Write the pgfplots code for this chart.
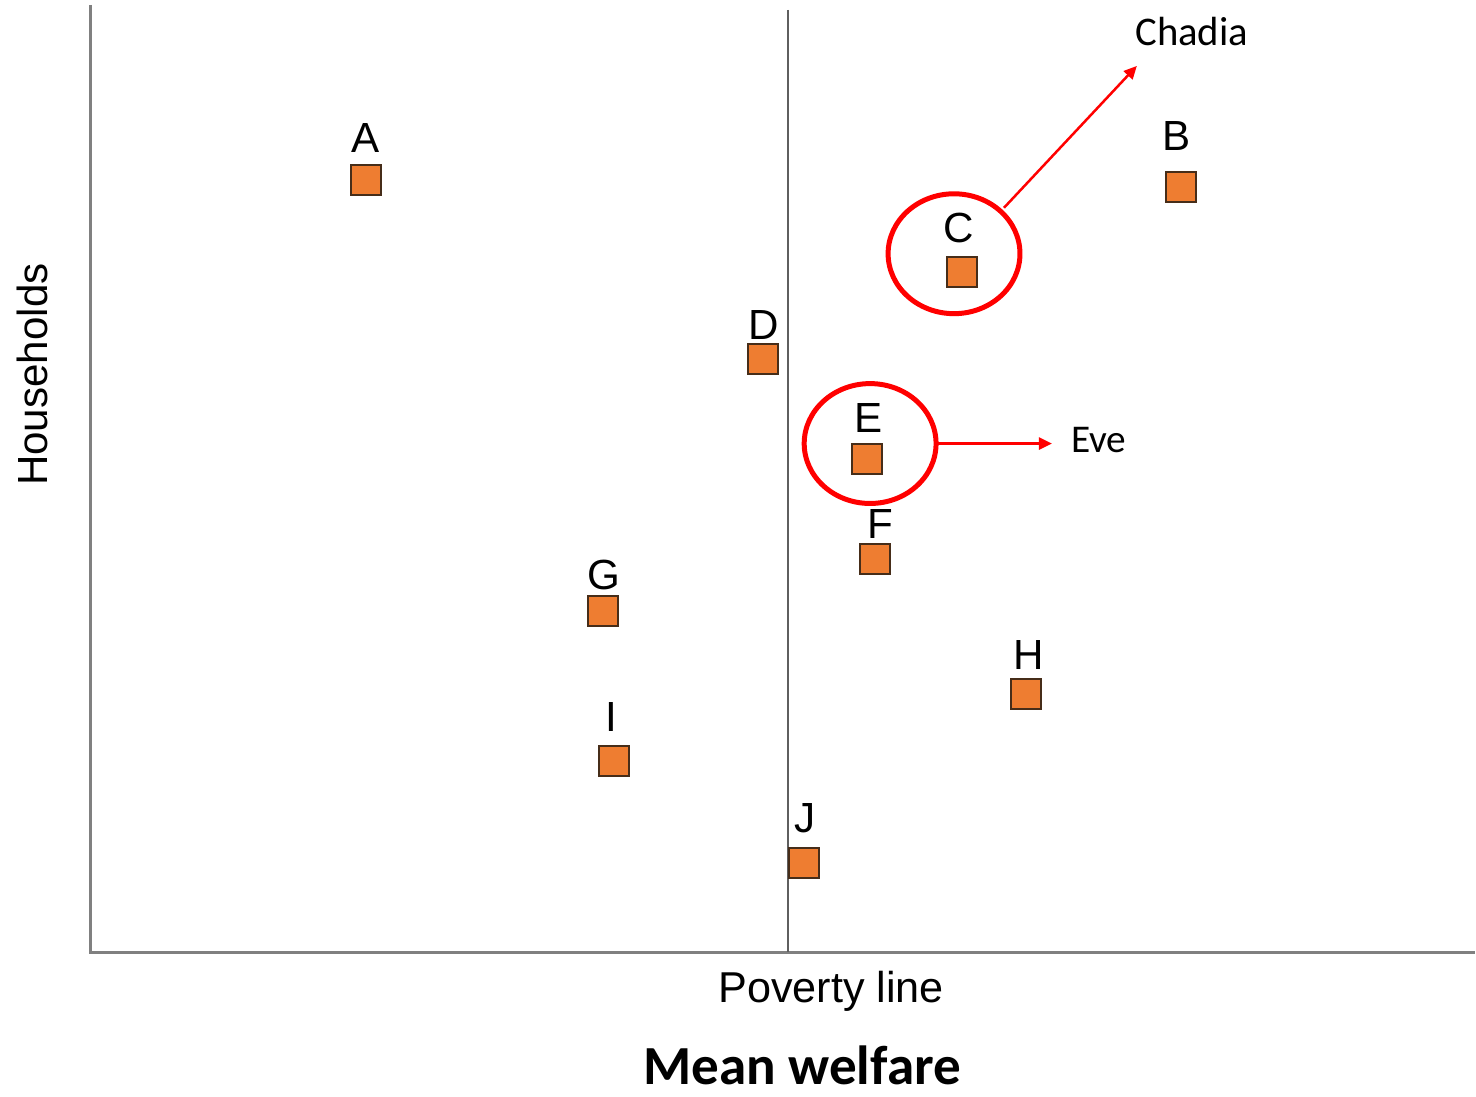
\documentclass[border=0pt]{standalone}
\usepackage{pgfplots}
\pgfplotsset{compat=1.18}
\usepackage{fontspec}
\setmainfont{Liberation Sans}
\newfontfamily\calibri{Carlito}
\usetikzlibrary{arrows.meta}
\definecolor{sqfill}{RGB}{238,125,49}
\definecolor{sqedge}{RGB}{70,45,25}
\definecolor{axgray}{RGB}{128,128,128}
\definecolor{povgray}{RGB}{95,95,95}
\begin{document}
\begin{tikzpicture}
\begin{axis}[
  x=0.1mm, y=0.1mm,
  xmin=0, xmax=1476, ymin=0, ymax=1093,
  hide axis, clip=false,
]
\path (axis cs:0,0) rectangle (axis cs:1476,1093);
% axes
\addplot[axgray, line width=0.3mm, forget plot] coordinates {(91,1088) (91,140) (1476,140)};
% poverty line
\addplot[povgray, line width=0.2mm, forget plot] coordinates {(789,1083) (789,140)};
% households
\addplot[only marks, mark=square*, mark size=1.5mm,
  mark options={fill=sqfill, draw=sqedge, line width=0.2mm}] coordinates {
  (366,913) (1182,906) (963,821) (764,734) (868,634)
  (876,533) (604,481) (1027,398) (615,331) (805,229)
};
% labels
\begin{scope}[font=\fontsize{12}{14}\selectfont]
\node at (axis cs:366,955) {A};
\node at (axis cs:1178,957) {B};
\node at (axis cs:960,865) {C};
\node at (axis cs:764,768) {D};
\node at (axis cs:869,675) {E};
\node at (axis cs:881,568) {F};
\node at (axis cs:604,517) {G};
\node at (axis cs:1030,437) {H};
\node at (axis cs:612,375) {I};
\node at (axis cs:806,274) {J};
\end{scope}
% circles and arrows
\draw[red, line width=0.5mm] (axis cs:955,839) ellipse [x radius=6.6mm, y radius=6.0mm];
\draw[red, line width=0.5mm] (axis cs:871,649) ellipse [x radius=6.6mm, y radius=6.0mm];
\draw[red, line width=0.25mm, -{Triangle[length=1.3mm,width=1.2mm]}] (axis cs:1005,885) -- (axis cs:1138,1027);
\draw[red, line width=0.25mm, -{Triangle[length=1.3mm,width=1.2mm]}] (axis cs:939,649) -- (axis cs:1053,649);
\node[font=\calibri\fontsize{11.6}{14}\selectfont] at (axis cs:1193,1061) {Chadia};
\node[font=\calibri\fontsize{11.2}{14}\selectfont] at (axis cs:1100,653) {Eve};
% axis titles
\node[rotate=90, font=\fontsize{12}{14}\selectfont] at (axis cs:32,718) {Households};
\node[font=\fontsize{12.3}{14}\selectfont] at (axis cs:832,101) {Poverty line};
\node[font=\calibri\bfseries\fontsize{15.7}{18}\selectfont] at (axis cs:803,27) {Mean welfare};
\end{axis}
\end{tikzpicture}
\end{document}
